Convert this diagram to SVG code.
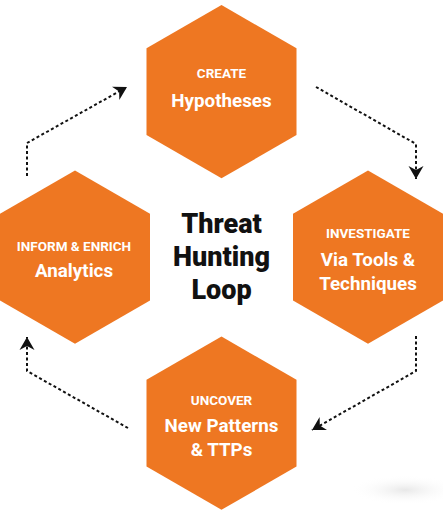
<svg xmlns="http://www.w3.org/2000/svg" width="443" height="522" viewBox="0 0 443 522">
  <defs>
    <style>
      .hex { fill: #EE7722; }
      .small { font-family: Roboto, "Liberation Sans", sans-serif; font-weight: 700; font-size: 13.5px; fill: #ffffff; text-anchor: middle; }
      .big { font-family: Roboto, "Liberation Sans", sans-serif; font-weight: 700; font-size: 18.8px; fill: #ffffff; text-anchor: middle; }
      .title { font-family: Roboto, "Liberation Sans", sans-serif; font-weight: 900; font-size: 27px; fill: #111111; text-anchor: middle; }
      .conn { fill: none; stroke: #111111; stroke-width: 2; stroke-dasharray: 3 2.5; marker-end: url(#arrow); }
    </style>
    <marker id="arrow" markerUnits="userSpaceOnUse" markerWidth="14" markerHeight="16" refX="13" refY="8" orient="auto" viewBox="0 0 14 16">
      <path d="M0,0.5 L13,8 L0,15.5 L4,8 Z" fill="#111111"/>
    </marker>
    <radialGradient id="smudge" cx="0.5" cy="0.5" r="0.5">
      <stop offset="0" stop-color="#e8e8e8"/>
      <stop offset="1" stop-color="#ffffff" stop-opacity="0"/>
    </radialGradient>
  </defs>
  <rect width="443" height="522" fill="#ffffff"/>
  <ellipse cx="405" cy="490" rx="55" ry="15" fill="url(#smudge)"/>

  <g id="connectors">
    <path class="conn" d="M316,87 L416,144 L416,179"/>
    <path class="conn" d="M416,336 L416,371 L312,430"/>
    <path class="conn" d="M128,428 L27,371 L27,337"/>
    <path class="conn" d="M27,176 L27,143 L127,87"/>
  </g>

  <g id="create">
    <polygon class="hex" points="221.5,5 296.5,48.3 296.5,135 221.5,178.3 146.5,135 146.5,48.3"/>
    <text class="small" x="221.5" y="78">CREATE</text>
    <text class="big" x="221.5" y="107">Hypotheses</text>
  </g>

  <g id="investigate">
    <polygon class="hex" points="368,170.5 443,213.8 443,300.5 368,343.8 293,300.5 293,213.8"/>
    <text class="small" x="368" y="238">INVESTIGATE</text>
    <text class="big" x="368" y="266">Via Tools &amp;</text>
    <text class="big" x="368" y="289.5">Techniques</text>
  </g>

  <g id="uncover">
    <polygon class="hex" points="221.5,336.5 296.5,379.8 296.5,466.5 221.5,509.8 146.5,466.5 146.5,379.8"/>
    <text class="small" x="221.5" y="405">UNCOVER</text>
    <text class="big" x="221.5" y="431.5">New Patterns</text>
    <text class="big" x="221.5" y="456">&amp; TTPs</text>
  </g>

  <g id="inform">
    <polygon class="hex" points="75,170.5 150,213.8 150,300.5 75,343.8 0,300.5 0,213.8"/>
    <text class="small" x="74" y="250.5">INFORM &amp; ENRICH</text>
    <text class="big" x="74" y="277">Analytics</text>
  </g>

  <g id="title">
    <text class="title" x="221.5" y="233">Threat</text>
    <text class="title" x="221.5" y="266">Hunting</text>
    <text class="title" x="221.5" y="299">Loop</text>
  </g>
</svg>
